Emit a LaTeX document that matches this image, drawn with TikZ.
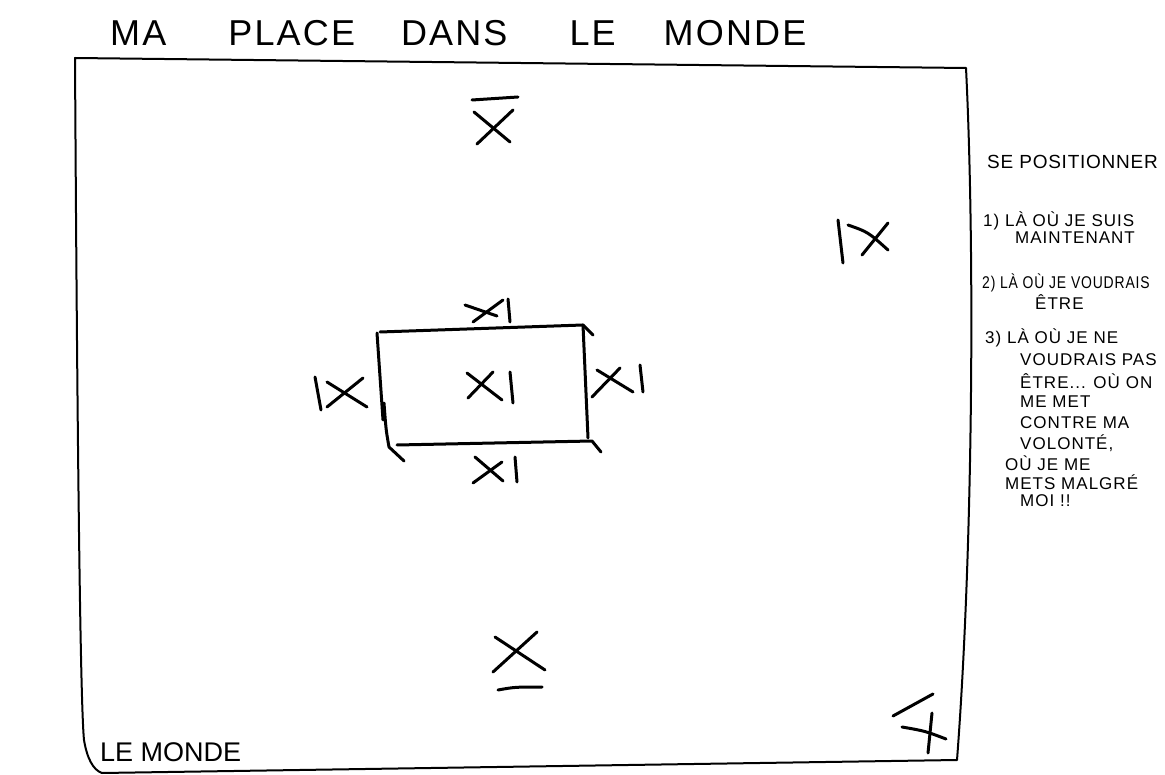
\documentclass[tikz,border=0pt]{standalone}
\usepackage{fontspec}
\usepackage{graphicx}
\setmainfont{Liberation Sans}
\begin{document}
\begin{tikzpicture}[x=1pt,y=-1pt,
  pen/.style={line width=3pt,line cap=round,line join=round},
  framepen/.style={line width=2pt,line cap=round,line join=round},
  title/.style={font=\fontsize{36}{40}\selectfont\addfontfeature{LetterSpace=6},inner sep=0pt,anchor=west},
  note/.style={font=\fontsize{17}{19}\selectfont\addfontfeature{LetterSpace=6},inner sep=0pt,anchor=west},
  head/.style={font=\fontsize{19}{21}\selectfont\addfontfeature{LetterSpace=4},inner sep=0pt,anchor=west}]
\useasboundingbox (0,0) rectangle (1165,775);
\fill[white] (0,0) rectangle (1165,775);
% title
\node[title] (t) at (110,33) {MA\hspace{62pt}PLACE\hspace{46pt}DANS\hspace{62pt}LE\hspace{48pt}MONDE};
% frame
\draw[framepen] (75,58) -- (966,68) .. controls (975,250) and (973,550) .. (957,760)
  -- (102,773) .. controls (93,770) and (87,758) .. (84,740) .. controls (80,700) and (77,400) .. cycle;
\node[inner sep=0pt,anchor=west,font=\fontsize{27}{30}\selectfont] (monde) at (100,752) {LE MONDE};
% top mark
\draw[pen] (472,100) -- (518,97);
\draw[pen] (477,144) -- (513,110);
\draw[pen] (474,112) -- (510,142);
% bottom mark
\draw[pen] (495,637) -- (545,670);
\draw[pen] (493,672) -- (537,632);
\draw[pen] (498,690) .. controls (515,687) .. (542,687);
% right mark
\draw[pen] (838,220) -- (843,263);
\draw[pen] (848,225) .. controls (868,232) .. (888,250);
\draw[pen] (862,255) -- (888,223);
% corner mark
\draw[pen] (893,716) -- (933,694);
\draw[pen] (902,727) .. controls (925,731) .. (946,739);
\draw[pen] (932,713) -- (928,753);
% rectangle
\draw[pen] (380,332) -- (583,325) -- (593,335);
\draw[pen] (583,325) -- (588,438);
\draw[pen] (397,445) -- (592,441) -- (601,452);
\draw[pen] (377,333) -- (383,420);
\draw[pen] (384,403) .. controls (386,430) .. (389,447) -- (404,461);
% marks around rectangle
\draw[pen] (465,305) -- (497,316);
\draw[pen] (473,322) -- (503,300);
\draw[pen] (508,299) -- (510,322);
\draw[pen] (467,373) -- (502,400);
\draw[pen] (468,398) -- (493,372);
\draw[pen] (510,372) -- (513,403);
\draw[pen] (592,397) -- (620,368);
\draw[pen] (597,370) -- (633,392);
\draw[pen] (640,365) -- (643,392);
\draw[pen] (315,377) -- (321,410);
\draw[pen] (327,407) -- (363,378);
\draw[pen] (327,382) -- (367,407);
\draw[pen] (473,483) -- (502,462);
\draw[pen] (475,457) -- (503,481);
\draw[pen] (515,457) -- (517,482);
% side notes
\node[head] (h) at (987,162) {SE POSITIONNER};
\node[note] (a1) at (983,221) {1) LÀ OÙ JE SUIS};
\node[note] (a2) at (1015,238) {MAINTENANT};
\node[note] (b1) at (982,283) {\scalebox{0.82}[1]{2) LÀ OÙ JE VOUDRAIS}};
\node[note] (b2) at (1035,302) {ÊTRE};
\node[note] (c1) at (985,338) {3) LÀ OÙ JE NE};
\node[note] (c2) at (1020,360) {VOUDRAIS PAS};
\node[note] (c3) at (1020,381) {ÊTRE... OÙ ON};
\node[note] (c4) at (1020,402) {ME MET};
\node[note] (c5) at (1020,423) {CONTRE MA};
\node[note] (c6) at (1020,443) {VOLONTÉ,};
\node[note] (c7) at (1005,463) {OÙ JE ME};
\node[note] (c8) at (1005,482) {METS MALGRÉ};
\node[note] (c9) at (1020,501) {MOI !!};
\end{tikzpicture}
\end{document}
